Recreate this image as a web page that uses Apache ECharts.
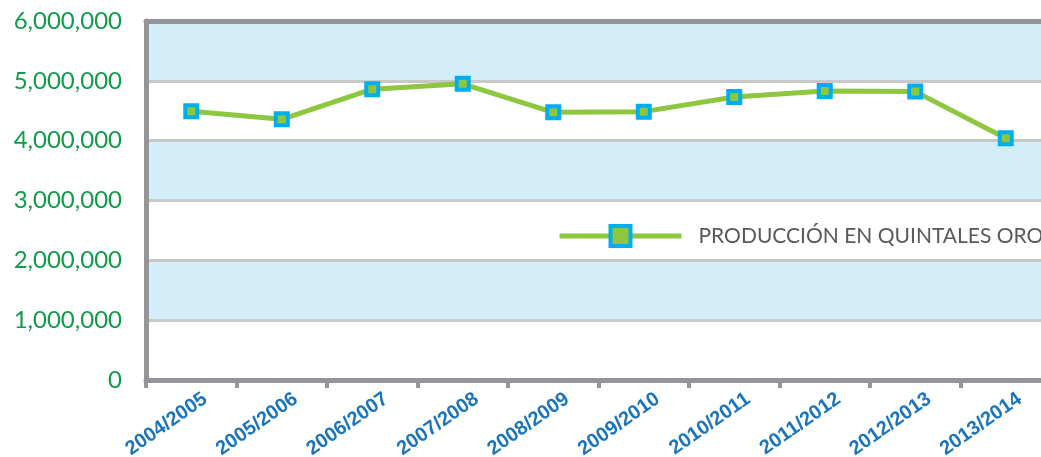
<!DOCTYPE html>
<html>
<head>
<meta charset="utf-8">
<script src="https://cdn.jsdelivr.net/npm/echarts@6/dist/echarts.min.js"></script>
<style>
  html, body { margin: 0; padding: 0; background: #fff; }
  #main { width: 1041px; height: 457px; }
</style>
</head>
<body>
<div id="main"></div>
<script>
// datos del gráfico
var campanias = ["2004/2005", "2005/2006", "2006/2007", "2007/2008", "2008/2009",
                 "2009/2010", "2010/2011", "2011/2012", "2012/2013", "2013/2014"];
var produccion = [4490000, 4357000, 4860000, 4950000, 4474000,
                  4485000, 4730000, 4830000, 4820000, 4040000];
var nombreSerie = "PRODUCCIÓN EN QUINTALES ORO";
var yMin = 0, yMax = 6000000, yPaso = 1000000;

var gris = "#939598";
var verde = "#8dc63f";
var celeste = "#00aeef";

var myChart = echarts.init(document.getElementById("main"));

var option = {
  animation: false,
  grid: [
    { left: 146, top: 21, width: 905, height: 359, outerBoundsMode: "none" },
    // grilla solo para las etiquetas del eje x (desplazadas a la derecha)
    { left: 160, top: 21, width: 905, height: 359, outerBoundsMode: "none" }
  ],
  legend: {
    data: [nombreSerie],
    left: 557,
    top: 224,
    padding: 0,
    itemWidth: 122,
    itemHeight: 25,
    lineStyle: { width: 5 },
    itemStyle: { color: verde, borderColor: celeste, borderWidth: 4 },
    textStyle: {
      fontFamily: "Lato",
      fontSize: 21,
      color: "#58595b",
      padding: [0, 0, 0, 12]
    }
  },
  xAxis: [
    {
      type: "category",
      gridIndex: 0,
      data: campanias,
      axisLine: { lineStyle: { color: gris, width: 5 } },
      axisTick: { show: true, length: 8, lineStyle: { color: gris, width: 4 } },
      axisLabel: { show: false }
    },
    {
      // borde superior
      type: "category",
      gridIndex: 0,
      position: "top",
      data: campanias,
      axisLine: { lineStyle: { color: gris, width: 5 } },
      axisTick: { show: false },
      axisLabel: { show: false }
    },
    {
      type: "category",
      gridIndex: 1,
      data: campanias,
      axisLine: { show: false },
      axisTick: { show: false },
      axisLabel: {
        rotate: 35,
        margin: 17,
        color: "#1b75bc",
        fontFamily: "Liberation Sans",
        fontWeight: "bold",
        fontSize: 20
      }
    }
  ],
  yAxis: [
    {
      type: "value",
      gridIndex: 0,
      min: yMin,
      max: yMax,
      interval: yPaso,
      axisLine: { show: true, lineStyle: { color: gris, width: 5 } },
      axisTick: { show: false },
      axisLabel: {
        margin: 24,
        color: "#0f9b4a",
        fontFamily: "Lato",
        fontSize: 24,
        formatter: function (v) {
          return v.toLocaleString("en-US");
        }
      },
      splitLine: { lineStyle: { color: "#c8c8c8", width: 3 } },
      splitArea: { show: true, areaStyle: { color: ["#ffffff", "#d3edf9"] } }
    },
    {
      type: "value",
      gridIndex: 1,
      show: false
    }
  ],
  series: [
    {
      name: nombreSerie,
      type: "line",
      xAxisIndex: 0,
      yAxisIndex: 0,
      data: produccion,
      symbol: "rect",
      symbolSize: 12,
      lineStyle: { color: verde, width: 5 },
      itemStyle: { color: verde, borderColor: celeste, borderWidth: 4 },
      z: 5
    }
  ]
};

myChart.setOption(option, true);
</script>
</body>
</html>
